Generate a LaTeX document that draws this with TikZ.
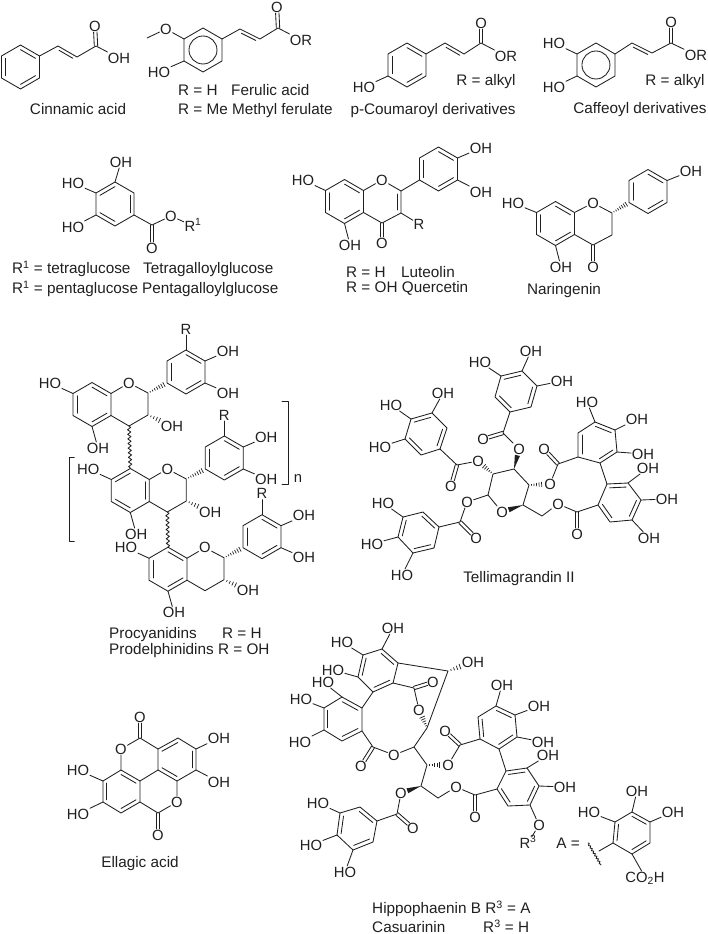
\documentclass[tikz,border=0pt]{standalone}
\usepackage{fontspec}
\setmainfont{Liberation Sans}
\usetikzlibrary{calc,decorations.pathmorphing}
\definecolor{ink}{gray}{0.12}
\tikzset{
  bond/.style={draw=ink,line width=0.85pt,line join=round,line cap=round},
  hashline/.style={draw=ink,line width=0.7pt},
  wavy/.style={bond,decorate,decoration={snake,amplitude=1.6pt,segment length=4.6pt}},
  atten/.style={bond,decorate,decoration={snake,amplitude=0.9pt,segment length=3pt}},
  atom/.style={font=\fontsize{14.8}{14.8}\selectfont,text=ink,inner sep=0.6pt,text height=10.4pt,text depth=0pt},
  lbl/.style={font=\fontsize{15.3}{15.3}\selectfont,text=ink,inner sep=0pt,text height=10.6pt,text depth=0pt,anchor=west},
  lblc/.style={lbl,anchor=center}
}
\newcommand\At[3]{\node[atom] (#1) at (#2) {#3};}
\newcommand\Pt[2]{\coordinate (#1) at (#2);}
\newcommand\Ring[7]{%
  \coordinate (#1-1) at (#2);\coordinate (#1-2) at (#3);\coordinate (#1-3) at (#4);
  \coordinate (#1-4) at (#5);\coordinate (#1-5) at (#6);\coordinate (#1-6) at (#7);
  \coordinate (#1-c) at (barycentric cs:#1-1=1,#1-2=1,#1-3=1,#1-4=1,#1-5=1,#1-6=1);
  \draw[bond] (#1-1)--(#1-2)--(#1-3)--(#1-4)--(#1-5)--(#1-6)--cycle;}
\newcommand\Hex[3]{\Ring{#1}{#2,#3-22}{#2+19,#3-11}{#2+19,#3+11}{#2,#3+22}{#2-19,#3+11}{#2-19,#3-11}}
\newcommand\Dbl[2]{\foreach \i/\j in {#2}{\draw[bond] ($(#1-\i)!0.21!(#1-c)$) -- ($(#1-\j)!0.21!(#1-c)$);}}
\newcommand\Circ[1]{\draw[bond] (#1-c) circle (14);}
\newcommand\CO[2]{\draw[bond,shorten >=6pt] ($(#1)!1.7pt!90:(#2)$) -- ($(#2)!1.7pt!-90:(#1)$);\draw[bond,shorten >=6pt] ($(#1)!1.7pt!-90:(#2)$) -- ($(#2)!1.7pt!90:(#1)$);}
\newcommand\DS[3]{\draw[bond] ($(#1)!.14!(#2)!3.2pt!#3:(#2)$) -- ($(#1)!.86!(#2)!3.2pt!#3:(#2)$);}
\newcommand\Hash[3]{\foreach \t in {0.12,0.24,...,#3}{\pgfmathsetmacro\w{0.3+\t/#3*2.6}\draw[hashline] ($(#1)!\t!(#2)!\w pt!90:(#2)$) -- ($(#1)!\t!(#2)!\w pt!-90:(#2)$);}}
\newcommand\Wedge[3]{\fill[ink] (#1) -- ($(#1)!#3!(#2)!2.6pt!90:(#2)$) -- ($(#1)!#3!(#2)!2.6pt!-90:(#2)$) -- cycle;}
\newcommand\Flav[5]{% name, dx, dy, A doubles, C4 label
 \begin{scope}[shift={(#2,#3)}]
  \Hex{#1A}{92}{404.5}\Dbl{#1A}{#4}
  \Hex{#1B}{186}{372}\Dbl{#1B}{1/2,3/4,5/6}
  \At{#1HO}{50,383}{HO}\At{#1OHf}{98,448}{OH}\At{#1O}{129,383}{O}\At{#1OHc}{172,426}{OH}
  \At{#1OHa}{228,351}{OH}\At{#1OHb}{228,393}{OH}\At{#1R}{186,329}{R}
  \Pt{#1Ctwo}{148,393}\Pt{#1Cthree}{148,415}\Pt{#1Cfour}{129,426}
  \draw[bond] (#1A-2)--(#1O)--(#1Ctwo)--(#1Cthree)--(#1Cfour)--(#1A-3);
  \draw[bond] (#1A-6)--(#1HO);\draw[bond] (#1A-4)--(#1OHf);
  \draw[bond] (#1B-2)--(#1OHa);\draw[bond] (#1B-3)--(#1OHb);\draw[bond] (#1B-1)--(#1R);
  \Hash{#1Ctwo}{#1B-5}{0.96}\Hash{#1Cthree}{#1OHc}{0.55}
 \end{scope}}
\begin{document}
\begin{tikzpicture}[x=1pt,y=-1pt]
\useasboundingbox (0,0) rectangle (708,934);
% Cinnamic acid
\Hex{ci}{20.5}{67}\Dbl{ci}{1/2,3/4,5/6}
\Pt{ciA}{58,46}\Pt{ciB}{77,57}\Pt{ciC}{96,46}
\At{ciO}{95,26}{O}\At{ciOH}{119,58}{OH}
\draw[bond] (ci-2)--(ciA)--(ciB)--(ciC)--(ciOH);
\DS{ciA}{ciB}{-90}\CO{ciC}{ciO}
\node[lblc] (ciT) at (78,109) {Cinnamic acid};
% Ferulic
\Hex{fe}{203}{50}\Circ{fe}
\Pt{feA}{240,29}\Pt{feB}{260,39}\Pt{feC}{278,28}\Pt{feM}{147,38}
\At{feO}{277,7}{O}\At{feOR}{301,40}{OR}\At{feOm}{166,29}{O}\At{feHO}{159,72}{HO}
\draw[bond] (fe-2)--(feA)--(feB)--(feC)--(feOR);
\draw[bond] (fe-6)--(feOm)--(feM);\draw[bond] (fe-5)--(feHO);
\DS{feA}{feB}{-90}\CO{feC}{feO}
\node[lbl] (feT1) at (178,90) {R = H};
\node[lbl] (feT2) at (231,90) {Ferulic acid};
\node[lbl] (feT3) at (178,109) {R = Me Methyl ferulate};
% p-Coumaroyl
\Hex{pc}{407}{65}\Dbl{pc}{1/2,3/4,5/6}
\Pt{pcA}{445,43}\Pt{pcB}{464,54}\Pt{pcC}{481,43}
\At{pcO}{481,23}{O}\At{pcOR}{506,56}{OR}\At{pcHO}{364,87}{HO}
\draw[bond] (pc-2)--(pcA)--(pcB)--(pcC)--(pcOR);\draw[bond] (pc-5)--(pcHO);
\DS{pcA}{pcB}{-90}\CO{pcC}{pcO}
\node[lblc] (pcT1) at (486,80) {R = alkyl};
\node[lblc] (pcT2) at (433,109) {p-Coumaroyl derivatives};
% Caffeoyl
\Hex{ca}{596}{65}\Circ{ca}
\Pt{caA}{632,43}\Pt{caB}{652,53}\Pt{caC}{671,43}
\At{caO}{671,22}{O}\At{caOR}{696,55}{OR}\At{caH1}{554,43}{HO}\At{caH2}{554,87}{HO}
\draw[bond] (ca-2)--(caA)--(caB)--(caC)--(caOR);\draw[bond] (ca-6)--(caH1);\draw[bond] (ca-5)--(caH2);
\DS{caA}{caB}{-90}\CO{caC}{caO}
\node[lblc] (caT1) at (675,80) {R = alkyl};
\node[lblc] (caT2) at (640,108) {Caffeoyl derivatives};
% Gallate
\Hex{ga}{115}{204}\Dbl{ga}{6/1,2/3,4/5}
\Pt{gaC}{152,225}
\At{gaOH}{121,162}{OH}\At{gaH1}{73,183}{HO}\At{gaH2}{73,227}{HO}\At{gaO}{152,248}{O}\At{gaOe}{171,216}{O}\At{gaR}{193,226}{R\textsuperscript{1}}
\draw[bond] (ga-1)--(gaOH);\draw[bond] (ga-6)--(gaH1);\draw[bond] (ga-5)--(gaH2);
\draw[bond] (ga-3)--(gaC)--(gaOe)--(gaR);\CO{gaC}{gaO}
\node[lbl] (gaT1) at (12,268) {R\textsuperscript{1} = tetraglucose};
\node[lbl] (gaT2) at (143,268) {Tetragalloylglucose};
\node[lbl] (gaT3) at (12,288) {R\textsuperscript{1} = pentaglucose};
\node[lbl] (gaT4) at (142,288) {Pentagalloylglucose};
% Luteolin
\Hex{luA}{344.5}{201.5}\Dbl{luA}{1/2,3/4,5/6}
\Hex{luB}{438.5}{169}\Dbl{luB}{1/2,3/4,5/6}
\Pt{luC2}{401,191}\Pt{luC3}{401,213}\Pt{luC4}{382,223}
\At{luO}{382,180}{O}\At{luO2}{382,243}{O}\At{luHO}{303,180}{HO}\At{luOH}{350,245}{OH}\At{luR}{419,224}{R}\At{luOHa}{481,148}{OH}\At{luOHb}{481,192}{OH}
\draw[bond] (luA-2)--(luO)--(luC2)--(luC3)--(luC4)--(luA-3);
\draw[bond] (luC2)--(luB-5);\draw[bond] (luC3)--(luR);\draw[bond] (luA-6)--(luHO);\draw[bond] (luA-4)--(luOH);
\draw[bond] (luB-2)--(luOHa);\draw[bond] (luB-3)--(luOHb);
\DS{luC2}{luC3}{-90}\CO{luC4}{luO2}
\node[lbl] (luT1) at (346,272) {R = H};
\node[lbl] (luT2) at (401,272) {Luteolin};
\node[lbl] (luT3) at (346,287) {R = OH Quercetin};
% Naringenin
\Hex{naA}{555.5}{223.5}\Dbl{naA}{1/2,3/4,5/6}
\Hex{naB}{648}{191.5}\Dbl{naB}{1/2,3/4,5/6}
\Pt{naC2}{612,213}\Pt{naC3}{612,235}\Pt{naC4}{593,245}
\At{naO}{593,203}{O}\At{naO2}{593,267}{O}\At{naOH}{561,267}{OH}\At{naHO}{513,203}{HO}\At{naOHb}{691,171}{OH}
\draw[bond] (naA-2)--(naO)--(naC2)--(naC3)--(naC4)--(naA-3);
\draw[bond] (naA-6)--(naHO);\draw[bond] (naA-4)--(naOH);\draw[bond] (naB-2)--(naOHb);
\Hash{naC2}{naB-5}{0.96}\CO{naC4}{naO2}
\node[lblc] (naT) at (564,289) {Naringenin};
% Procyanidins
\Flav{u}{0}{0}{1/2,3/4,5/6}{}
\Flav{v}{38.3}{86}{6/1,2/3,4/5}{}
\Flav{w}{76}{164.7}{1/2,3/4,5/6}{}
\draw[wavy] (uCfour)--(vA-1);
\draw[wavy] (vCfour)--(wA-1);
\draw[bond] (74.3,457.7)--(69.3,457.7)--(69.3,541)--(74.3,541);
\draw[bond] (282,401)--(288,401)--(288,484)--(282,484);
\At{nlab}{298,477}{n}
\node[lbl] (prT1) at (109,633) {Procyanidins};
\node[lbl] (prT2) at (222,633) {R = H};
\node[lbl] (prT3) at (109,649) {Prodelphinidins R = OH};
% Tellimagrandin II
\Pt{tC1}{488,495}\Pt{tC2}{493,474}\Pt{tC3}{514,469}\Pt{tC4}{529,485}\Pt{tC5}{523,505}
\At{tOr}{502,512}{O}
\draw[bond] (tOr)--(tC1)--(tC2)--(tC3)--(tC4)--(tC5);
\Wedge{tC5}{tOr}{0.68}
\Ring{tD}{439,527}{423,512}{403,517}{398,537}{413,553}{434,548}\Dbl{tD}{3/4,1/2,5/6}
\At{tDa}{383,503}{HO}\At{tDb}{372,544}{HO}\At{tDc}{402,575}{HO}
\draw[bond] (tD-3)--(tDa);\draw[bond] (tD-4)--(tDb);\draw[bond] (tD-5)--(tDc);
\At{tO1}{467,502}{O}\Pt{tE1}{460,522}\At{tEO1}{476,538}{O}
\draw[bond] (tC1)--(tO1)--(tE1)--(tD-1);\CO{tE1}{tEO1}
\Ring{tG}{440,449}{447,428}{432,413}{411,419}{405,439}{421,455}\Dbl{tG}{1/2,3/4,5/6}
\At{tGa}{443,393}{OH}\At{tGb}{391,405}{HO}\At{tGc}{380,447}{HO}
\draw[bond] (tG-3)--(tGa);\draw[bond] (tG-4)--(tGb);\draw[bond] (tG-5)--(tGc);
\At{tO2}{478,461}{O}\Pt{tE2}{457,465}\At{tEO2}{451,486}{O}
\Hash{tC2}{tO2}{0.7}
\draw[bond] (tO2)--(tE2)--(tG-1);\CO{tE2}{tEO2}
\Ring{tH}{510,412}{531,407}{537,386}{522,371}{501,376}{495,397}\Dbl{tH}{6/1,4/5,2/3}
\At{tHa}{531,351}{OH}\At{tHb}{480,362}{HO}\At{tHc}{562,381}{OH}
\draw[bond] (tH-4)--(tHa);\draw[bond] (tH-5)--(tHb);\draw[bond] (tH-3)--(tHc);
\At{tO3}{519,449}{O}\Pt{tE3}{503,433}\At{tEO3}{483,439}{O}
\Wedge{tC3}{tO3}{0.68}
\draw[bond] (tO3)--(tE3)--(tH-1);\CO{tE3}{tEO3}
\Ring{tI}{578,457}{578,433}{595,422}{615,430}{617,452}{600,463}\Dbl{tI}{1/2,3/4,5/6}
\At{tIa}{587,402}{HO}\At{tIb}{637,419}{OH}\At{tIc}{643,454}{OH}
\draw[bond] (tI-3)--(tIa);\draw[bond] (tI-4)--(tIb);\draw[bond] (tI-5)--(tIc);
\At{tO4}{550,484}{O}\Pt{tE4}{558,464}\At{tEO4}{544,449}{O}
\Hash{tC4}{tO4}{0.72}
\draw[bond] (tO4)--(tE4)--(tI-1);\CO{tE4}{tEO4}
\Ring{tJ}{607,484}{628,483}{641,500}{632,520}{610,522}{598,505}\Dbl{tJ}{1/2,3/4,5/6}
\At{tJa}{648,468}{OH}\At{tJb}{667,499}{OH}\At{tJc}{649,538}{OH}
\draw[bond] (tJ-2)--(tJa);\draw[bond] (tJ-3)--(tJb);\draw[bond] (tJ-4)--(tJc);
\draw[bond] (tI-6)--(tJ-1);
\Pt{tE5}{577,512}\At{tEO5}{577,534}{O}\At{tO5}{558,504}{O}\Pt{tCH}{542,516}
\draw[bond] (tJ-6)--(tE5)--(tO5)--(tCH)--(tC5);\CO{tE5}{tEO5}
\node[lblc] (tT) at (519,577) {Tellimagrandin II};
% Ellagic acid
\Ring{eR}{178,738}{196,749}{196,770}{177,781}{158,770}{158,749}\Dbl{eR}{6/1,2/3,4/5}
\Ring{eL}{121,770}{140,781}{140,802}{121,813}{103,802}{103,781}\Dbl{eL}{1/2,3/4,5/6}
\Pt{eC1}{140,738}\Pt{eC2}{158,813}
\At{eO1}{121,749}{O}\At{eOa}{140,717}{O}\At{eO2}{177,802}{O}\At{eOb}{158,835}{O}
\At{eA}{219,738}{OH}\At{eB}{219,782}{OH}\At{eC}{78,770}{HO}\At{eD}{78,814}{HO}
\draw[bond] (eR-6)--(eC1)--(eO1)--(eL-1);\draw[bond] (eL-3)--(eC2)--(eO2)--(eR-4);\draw[bond] (eR-5)--(eL-2);
\draw[bond] (eR-2)--(eA);\draw[bond] (eR-3)--(eB);\draw[bond] (eL-6)--(eC);\draw[bond] (eL-5)--(eD);
\CO{eC1}{eOa}\CO{eC2}{eOb}
\node[lblc] (eT) at (140,862) {Ellagic acid};
% Hippophaenin
\Ring{hG}{382,649}{398,663}{393,683}{373,692}{358,677}{363,655}\Dbl{hG}{5/6,1/2,3/4}
\At{hGa}{393,628}{OH}\At{hGb}{342,642}{HO}\At{hGc}{333,670}{HO}
\draw[bond] (hG-1)--(hGa);\draw[bond] (hG-6)--(hGb);\draw[bond] (hG-5)--(hGc);
\Pt{hCa}{448,671}\Pt{hCb}{427,728}\Pt{hCc}{414,747}\Pt{hCd}{427,765}\Pt{hCe}{421,786}\Pt{hCf}{438,798}
\At{hOHt}{473,662}{OH}
\draw[bond] (hG-2)--(hCa)--(hCb)--(hCc)--(hCd)--(hCe)--(hCf);
\Hash{hCa}{hOHt}{0.5}
\Pt{hE1}{414,688}\At{hEO1}{433,682}{O}\At{hO1}{419,710}{O}
\draw[bond] (hG-3)--(hE1)--(hO1);\CO{hE1}{hEO1}\Hash{hCb}{hO1}{0.62}
\Ring{hH}{362,708}{362,731}{342,741}{324,730}{324,708}{342,697}\Dbl{hH}{6/1,2/3,4/5}
\At{hHa}{323,682}{HO}\At{hHb}{301,699}{HO}\At{hHc}{300,742}{HO}
\draw[bond] (hH-6)--(hHa);\draw[bond] (hH-5)--(hHb);\draw[bond] (hH-4)--(hHc);
\draw[bond] (hG-4)--(hH-1);
\Pt{hE2}{373,747}\At{hEO2}{361,766}{O}\At{hO2}{394,755}{O}
\draw[bond] (hH-2)--(hE2)--(hO2)--(hCc);\CO{hE2}{hEO2}
\Ring{hI}{480,739}{478,717}{496,706}{515,715}{517,737}{499,749}\Dbl{hI}{1/2,3/4,5/6}
\At{hIa}{502,685}{OH}\At{hIb}{539,706}{OH}\At{hIc}{543,742}{OH}
\draw[bond] (hI-3)--(hIa);\draw[bond] (hI-4)--(hIb);\draw[bond] (hI-5)--(hIc);
\At{hO3}{448,765}{O}\Pt{hE3}{460,745}\At{hEO3}{445,731}{O}
\Hash{hCd}{hO3}{0.68}
\draw[bond] (hO3)--(hE3)--(hI-1);\CO{hE3}{hEO3}
\Ring{hJ}{506,771}{527,768}{539,786}{530,805}{508,806}{497,789}\Dbl{hJ}{1/2,3/4,5/6}
\At{hJa}{548,755}{OH}\At{hJb}{565,787}{OH}\At{hJc}{539,825}{O}\At{hRt}{528,843}{R\textsuperscript{3}}
\draw[bond] (hJ-2)--(hJa);\draw[bond] (hJ-3)--(hJb);\draw[bond] (hJ-4)--(hJc)--(hRt);
\draw[bond] (hI-6)--(hJ-1);
\At{hO5}{456,787}{O}\Pt{hE4}{475,795}\At{hEO4}{475,817}{O}
\draw[bond] (hCf)--(hO5)--(hE4)--(hJ-6);\CO{hE4}{hEO4}
\At{hO4}{401,793}{O}\Pt{hE5}{397,814}\At{hEO5}{413,828}{O}
\Wedge{hCe}{hO4}{0.68}
\Ring{hK}{377,821}{360,807}{340,813}{337,835}{353,850}{373,842}\Dbl{hK}{1/2,3/4,5/6}
\draw[bond] (hO4)--(hE5)--(hK-1);\CO{hE5}{hEO5}
\At{hKa}{318,803}{HO}\At{hKb}{311,845}{HO}\At{hKc}{345,872}{HO}
\draw[bond] (hK-3)--(hKa);\draw[bond] (hK-4)--(hKb);\draw[bond] (hK-5)--(hKc);
% Group A
\Ring{aR}{632,812}{650,822}{650,843}{632,854}{613,843}{615,822}\Dbl{aR}{1/2,3/4,5/6}
\At{aHO}{589,812}{HO}\At{aOHt}{637,791}{OH}\At{aOHr}{673,812}{OH}\At{aCO}{645,877}{CO\textsubscript{2}H}
\draw[bond] (aR-6)--(aHO);\draw[bond] (aR-1)--(aOHt);\draw[bond] (aR-2)--(aOHr);\draw[bond] (aR-4)--(aCO);
\Pt{aS}{599,851}\Pt{aWa}{588,843}\Pt{aWb}{601,865}
\draw[bond] (aR-5)--(aS);
\draw[atten] (aWa)--(aWb);
\node[lblc] (aEq) at (568,843) {A =};
\node[lbl] (hT1) at (372,908) {Hippophaenin B R\textsuperscript{3} = A};
\node[lbl] (hT2) at (372,927) {Casuarinin};
\node[lbl] (hT3) at (483,927) {R\textsuperscript{3} = H};
\end{tikzpicture}
\end{document}
